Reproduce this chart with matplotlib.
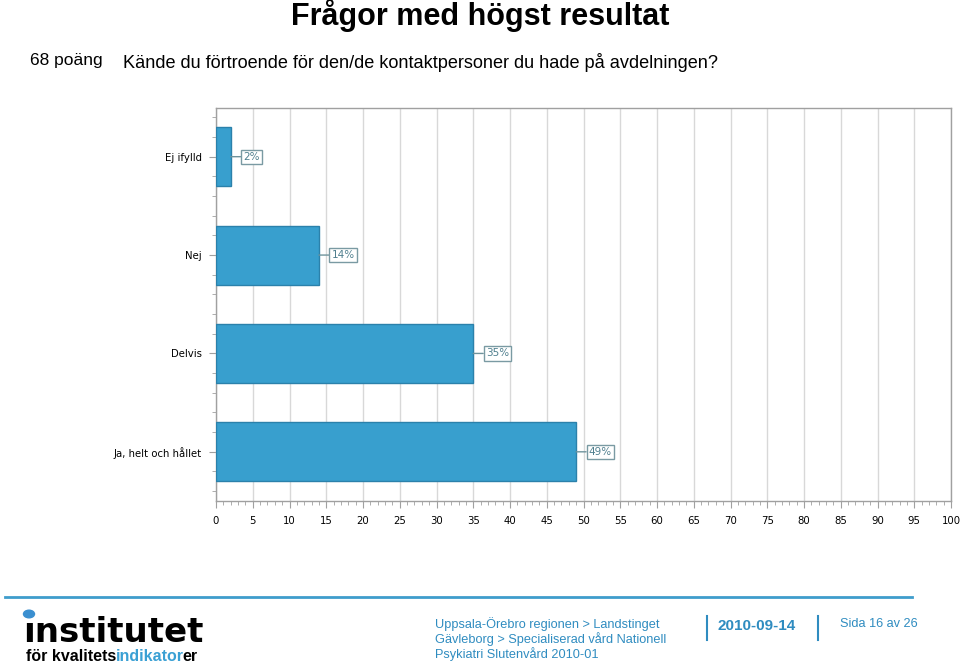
import numpy as np
import matplotlib
matplotlib.use("Agg")
import matplotlib.pyplot as plt
from matplotlib.patches import Circle
from matplotlib.lines import Line2D

# data (top to bottom as shown)
categories = ["Ej ifylld", "Nej", "Delvis", "Ja, helt och hållet"]
values = [2, 14, 35, 49]
value_labels = ["2%", "14%", "35%", "49%"]
x_ticks = list(range(0, 101, 5))

title = "Frågor med högst resultat"
points_text = "68 poäng"
question = "Kände du förtroende för den/de kontaktpersoner du hade på avdelningen?"
footer_lines = ["Uppsala-Örebro regionen > Landstinget",
                "Gävleborg > Specialiserad vård Nationell",
                "Psykiatri Slutenvård 2010-01"]
footer_date = "2010-09-14"
footer_page = "Sida 16 av 26"

BAR = "#389fce"
BAR_EDGE = "#2b81ab"
BLUE_TXT = "#2f8cc0"
GRID = "#d8d8d8"
SPINE = "#a0a0a0"

fig = plt.figure(figsize=(9.6, 6.66), dpi=100)

# headers
fig.text(0.5, 1 - 16 / 666, title, ha="center", va="center", fontsize=22,
         fontweight="bold", family="Liberation Sans")
fig.text(30 / 960, 1 - 61 / 666, points_text, ha="left", va="center",
         fontsize=12.5, family="Liberation Sans")
fig.text(123 / 960, 1 - 62 / 666, question, ha="left", va="center",
         fontsize=13.1, family="Liberation Sans")

# chart
ax = fig.add_axes([216 / 960, 1 - 501 / 666, 735 / 960, 393.5 / 666])
y = np.arange(len(categories))
ax.barh(y, values, height=0.6, color=BAR, edgecolor=BAR_EDGE, linewidth=1, zorder=3)
ax.set_xlim(0, 100)
ax.set_ylim(len(categories) - 0.5, -0.5)

ax.set_xticks(x_ticks)
ax.set_xticks(np.arange(0, 101, 1), minor=True)
ax.set_yticks(y)
ax.set_yticklabels(categories)
ax.set_yticks(np.arange(-0.4, len(categories) - 0.4, 0.2), minor=True)

ax.grid(axis="x", which="major", color=GRID, linewidth=1, zorder=0)
for s in ax.spines.values():
    s.set_color(SPINE)
    s.set_linewidth(1)
ax.tick_params(axis="both", which="major", length=5, color=SPINE,
               labelsize=7.3, labelcolor="black")
ax.tick_params(axis="both", which="minor", length=3, color=SPINE)
ax.tick_params(axis="x", pad=6)
ax.tick_params(axis="y", pad=5)

for yi, v, lab in zip(y, values, value_labels):
    ax.annotate(lab, xy=(v, yi), xytext=(9, 0), textcoords="offset points",
                ha="left", va="center", fontsize=7.5, color="#4f7f8e",
                bbox=dict(boxstyle="square,pad=0.2", fc="white", ec="#7a9aa3", lw=1),
                arrowprops=dict(arrowstyle="-", color="#6f939c", lw=1,
                                shrinkA=0, shrinkB=0), zorder=4)

# footer line
fig.add_artist(Line2D([5 / 960, 912 / 960], [1 - 597 / 666] * 2,
                      color="#3f9dcc", lw=2, transform=fig.transFigure))

# logo
fig.text(23 / 960, 1 - 632 / 666, "ınstitutet", ha="left", va="center",
         fontsize=24.5, fontweight="bold", family="DejaVu Sans", color="black")
fig.add_artist(Circle((29 / 960, 1 - 614 / 666), 5.5 / 960, color="#3a8fd0",
                      transform=fig.transFigure))

# subtitle pieces placed by measuring prefix widths (small nudge in px per piece)
renderer = fig.canvas.get_renderer()
sub_font = dict(fontsize=11.5, fontweight="bold", family="Liberation Sans")
sub_parts = [("för kvalitets", "black", 0), ("indikator", "#3aa0d4", 0), ("er", "black", -2)]
x_start = 26 / 960
prefix = ""
for part, col, nudge in sub_parts:
    if prefix:
        probe = fig.text(0, 0, prefix, **sub_font)
        w = probe.get_window_extent(renderer).width / fig.bbox.width
        probe.remove()
    else:
        w = 0
    fig.text(x_start + w + nudge / 960, 1 - 661 / 666, part, ha="left", va="baseline",
             color=col, **sub_font)
    prefix += part

# footer texts
for i, line in enumerate(footer_lines):
    fig.text(435 / 960, 1 - (624 + i * 15) / 666, line, ha="left", va="center",
             fontsize=9.2, family="Liberation Sans", color=BLUE_TXT)
fig.text(718 / 960, 1 - 626 / 666, footer_date, ha="left", va="center",
         fontsize=11, fontweight="bold", family="Liberation Sans", color=BLUE_TXT)
fig.text(840 / 960, 1 - 624 / 666, footer_page, ha="left", va="center",
         fontsize=9.2, family="Liberation Sans", color=BLUE_TXT)
for xv in (707, 818):
    fig.add_artist(Line2D([xv / 960] * 2, [1 - 616 / 666, 1 - 640 / 666],
                          color=BLUE_TXT, lw=1.5, transform=fig.transFigure))

fig.savefig("out.png", dpi=100)
